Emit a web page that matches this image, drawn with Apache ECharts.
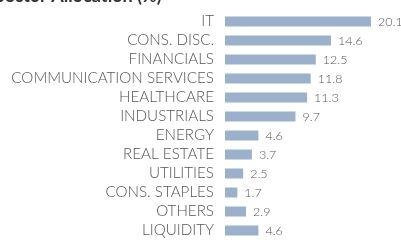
<!DOCTYPE html>
<html>
<head>
<meta charset="utf-8">
<script src="https://cdn.jsdelivr.net/npm/echarts@6/dist/echarts.min.js"></script>
<style>
  html, body { margin: 0; padding: 0; background: #fff; }
  #chart { width: 401px; height: 240px; }
</style>
</head>
<body>
<div id="chart"></div>
<script>
// sector allocation data
var sectors = ['IT', 'CONS. DISC.', 'FINANCIALS', 'COMMUNICATION SERVICES', 'HEALTHCARE',
    'INDUSTRIALS', 'ENERGY', 'REAL ESTATE', 'UTILITIES', 'CONS. STAPLES', 'OTHERS', 'LIQUIDITY'];
var weights = [20.1, 14.6, 12.5, 11.8, 11.3, 9.7, 4.6, 3.7, 2.5, 1.7, 2.9, 4.6];

var chart = echarts.init(document.getElementById('chart'));

chart.setOption({
    animation: false,
    title: {
        text: 'Sector Allocation (%)',
        left: -10,
        top: -18,
        textStyle: { fontFamily: 'Lato', fontSize: 18, fontWeight: 'bold', color: '#333' }
    },
    grid: { left: 225, top: 12, width: 146, height: 230 },
    xAxis: {
        type: 'value',
        min: 0,
        max: 20.1,
        show: false
    },
    yAxis: {
        type: 'category',
        inverse: true,
        data: sectors,
        axisLine: { show: false },
        axisTick: { show: false },
        axisLabel: {
            interval: 0,
            margin: 11,
            fontFamily: 'Lato',
            fontWeight: 300,
            fontSize: 15.2,
            color: '#555'
        }
    },
    series: [{
        type: 'bar',
        data: weights,
        barWidth: 10,
        itemStyle: { color: '#9bb1cb' },
        label: {
            show: true,
            position: 'right',
            distance: 7,
            fontFamily: 'Lato',
            fontWeight: 300,
            fontSize: 12.5,
            color: '#555',
            formatter: function (p) { return p.value.toFixed(1); }
        }
    }]
});
</script>
</body>
</html>
